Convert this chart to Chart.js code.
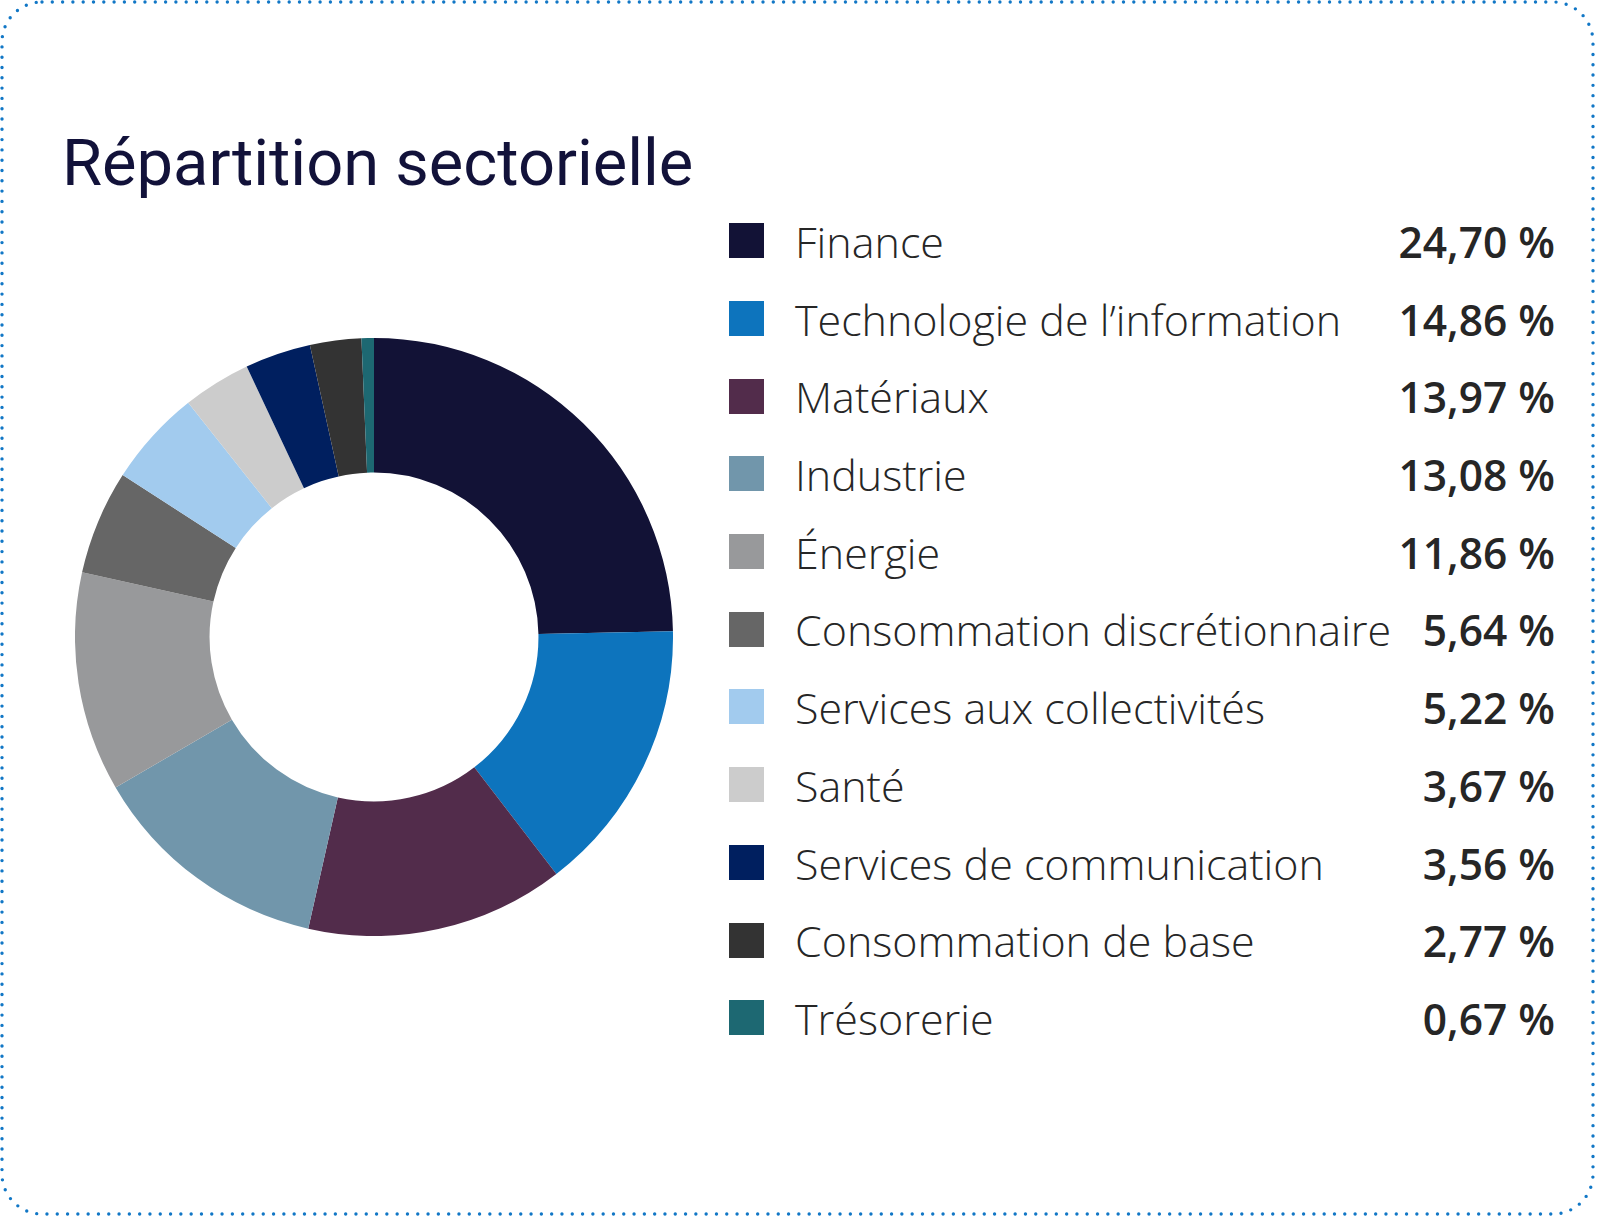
<!DOCTYPE html>
<html lang="fr">
<head>
<meta charset="utf-8">
<title>Répartition sectorielle</title>
<script src="https://cdn.jsdelivr.net/npm/chart.js@4.4.1/dist/chart.umd.min.js"></script>
<style>
    html, body {
        margin: 0;
        padding: 0;
        background: #ffffff;
    }
    body {
        width: 1597px;
        height: 1217px;
        position: relative;
        overflow: hidden;
    }
    .frame {
        position: absolute;
        left: 0;
        top: 0;
    }
    .title {
        position: absolute;
        left: 62px;
        top: 118px;
        margin: 0;
        font-family: Roboto, sans-serif;
        font-weight: 400;
        font-size: 65px;
        line-height: 90px;
        color: #12123a;
        white-space: nowrap;
    }
    .chart-box {
        position: absolute;
        left: 75px;
        top: 338px;
        width: 598px;
        height: 598px;
    }
    .legend {
        position: absolute;
        left: 729px;
        top: 202px;
        width: 826px;
        margin: 0;
        padding: 0;
        list-style: none;
    }
    .legend li {
        position: relative;
        height: 77.7px;
        display: flex;
        align-items: center;
    }
    .legend .swatch {
        width: 35px;
        height: 35px;
        flex: none;
    }
    .legend .label {
        position: absolute;
        left: 66px;
        top: 1px;
        line-height: 77.7px;
        font-family: "Open Sans", sans-serif;
        font-weight: 300;
        font-size: 43px;
        color: #262626;
        white-space: nowrap;
    }
    .legend .value {
        position: absolute;
        right: 0;
        top: 1px;
        line-height: 77.7px;
        font-family: "Open Sans", sans-serif;
        font-weight: 600;
        font-size: 42.5px;
        color: #262626;
        white-space: nowrap;
    }
</style>
</head>
<body>
<svg class="frame" width="1597" height="1217">
    <rect x="2" y="2" width="1591" height="1212" rx="40" ry="40"
          fill="none" stroke="#1177c6" stroke-width="3.4"
          stroke-linecap="round" stroke-dasharray="0 10.3"/>
</svg>

<h1 class="title">Répartition sectorielle</h1>

<div class="chart-box">
    <canvas id="sectorChart"></canvas>
</div>

<ul class="legend" id="sectorLegend"></ul>

<script>
// Sector weights (%)
const sectors = [
    'Finance',
    'Technologie de l\u2019information',
    'Matériaux',
    'Industrie',
    'Énergie',
    'Consommation discrétionnaire',
    'Services aux collectivités',
    'Santé',
    'Services de communication',
    'Consommation de base',
    'Trésorerie'
];
const weights = [24.70, 14.86, 13.97, 13.08, 11.86, 5.64, 5.22, 3.67, 3.56, 2.77, 0.67];
const sectorColors = [
    '#121236',
    '#0d74bd',
    '#522c4b',
    '#7196ab',
    '#98999b',
    '#666666',
    '#a2cbee',
    '#cccccc',
    '#001f5f',
    '#333333',
    '#1d6872'
];

function formatPercent(v) {
    return v.toFixed(2).replace('.', ',') + '\u00a0%';
}

// Build legend rows
const legendList = document.getElementById('sectorLegend');
sectors.forEach((name, i) => {
    const li = document.createElement('li');
    li.innerHTML = `
        <span class="swatch" style="background: ${sectorColors[i]}"></span>
        <span class="label">${name}</span>
        <span class="value">${formatPercent(weights[i])}</span>
    `;
    legendList.appendChild(li);
});

// Doughnut chart
const ctx = document.getElementById('sectorChart');
new Chart(ctx, {
    type: 'doughnut',
    data: {
        labels: sectors,
        datasets: [{
            data: weights,
            backgroundColor: sectorColors,
            borderWidth: 0
        }]
    },
    options: {
        responsive: true,
        maintainAspectRatio: false,
        animation: false,
        cutout: '55%',
        layout: {
            padding: 0
        },
        plugins: {
            legend: {
                display: false
            },
            tooltip: {
                enabled: false
            }
        }
    }
});
</script>
</body>
</html>
